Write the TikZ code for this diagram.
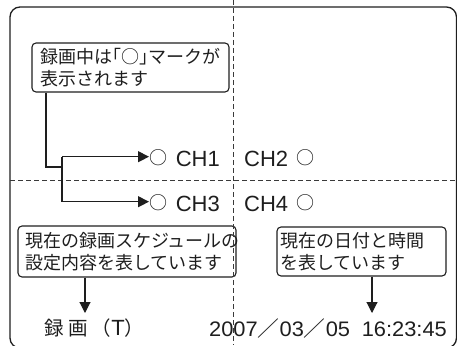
\documentclass[tikz,border=0pt]{standalone}
\usepackage{fontspec}
\setmainfont{Noto Sans CJK JP}
\newfontfamily\cjk{Noto Sans CJK JP}
\newfontfamily\lat{Liberation Sans}
\usetikzlibrary{arrows.meta}
\definecolor{ink}{HTML}{1E1E1E}
\definecolor{dashgray}{HTML}{3A3A3A}
\tikzset{
  frame/.style={draw=ink, line width=1.3pt, rounded corners=10pt},
  dashline/.style={draw=dashgray, line width=0.9pt, dash pattern=on 5pt off 3pt},
  box/.style={draw=ink, line width=1.1pt, rounded corners=4pt, inner ysep=0pt,
    align=left, text=ink, font=\cjk\fontsize{18}{22}\selectfont},
  conn/.style={draw=ink, line width=1.1pt},
  arr/.style={draw=ink, line width=1.1pt, -{Triangle[length=11pt,width=11pt]}},
  chlabel/.style={inner sep=0pt, text=ink, font=\lat\fontsize{22}{26}\selectfont},
  bottomlabel/.style={inner sep=0pt, text=ink},
}
\newcommand{\circmark}{{\cjk\fontsize{18}{22}\selectfont\raisebox{1.5pt}{○}}}
\begin{document}
\begin{tikzpicture}[x=1pt,y=-1pt]
\useasboundingbox (0,0) rectangle (457,345);
\begin{scope}
  \clip (0,0) rectangle (457,345);
  \draw[frame] (10,7) rectangle (456.5,348);
\end{scope}

% boxes
\node[box, minimum width=197pt, minimum height=49pt, text width=181pt, inner xsep=8pt]
  (b1) at (130.5,67.5) {録画中は{\addfontfeatures{RawFeature=+halt}「○」}マークが\\表示されます};
\node[box, minimum width=218pt, minimum height=51pt, text width=204pt, inner xsep=7pt]
  (b2) at (127,251.5) {現在の録画スケジュールの\\設定内容を表しています};
\node[box, minimum width=169pt, minimum height=49pt, text width=163pt, inner xsep=3pt]
  (b3) at (361.5,251.5) {現在の日付と時間\\を表しています};

% channel labels
\node[chlabel, anchor=base west] (ch1) at (149,166) {\circmark{} \hspace{2.5pt}CH1};
\node[chlabel, anchor=base west] (ch3) at (149,211) {\circmark{} \hspace{2.5pt}CH3};
\node[chlabel, anchor=base west] (ch2) at (244,166) {CH2 \hspace{2pt}\circmark};
\node[chlabel, anchor=base west] (ch4) at (244,211) {CH4 \hspace{2pt}\circmark};

% bottom labels
\node[bottomlabel, anchor=base west, font=\cjk\fontsize{19.5}{24}\selectfont] (rec) at (44,335)
  {録 画 （{\lat\fontsize{22}{26}\selectfont T}）};
\node[bottomlabel, anchor=base west] (date) at (209,336)
  {\scalebox{1.04}[1]{\lat\fontsize{21}{25}\selectfont 2007{\cjk ／}03{\cjk ／}05 \hspace{5.5pt}16:23:45}};

% dashed guides
\draw[dashline] (233,0) -- (233,345);
\draw[dashline] (10,180) -- (457,180);

% connectors
\coordinate (k1) at (46,167);
\coordinate (jm) at (62,167);
\coordinate (jt) at (62,156.7);
\coordinate (jb) at (62,201.7);
\draw[conn] (b1.south -| k1) -- (k1) -- (jm);
\draw[conn] (jt) -- (jb);
\draw[arr] (jt) -- (jt -| ch1.west);
\draw[arr] (jb) -- (jb -| ch3.west);

\coordinate (a2) at (85,313);
\coordinate (a3) at (372,313);
\draw[arr] (b2.south -| a2) -- (a2);
\draw[arr] (b3.south -| a3) -- (a3);
\end{tikzpicture}
\end{document}
